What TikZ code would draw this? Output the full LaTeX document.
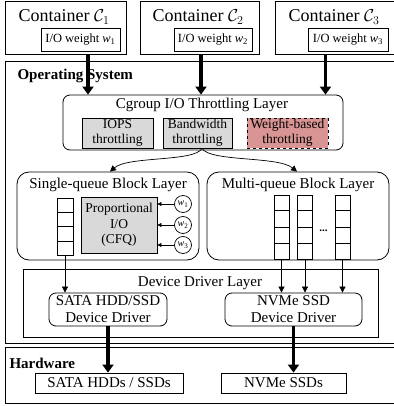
\documentclass[tikz,border=0pt]{standalone}
\usepackage{fontspec}
\setmainfont{Liberation Serif}
\usetikzlibrary{arrows.meta,calc}
\definecolor{boxgray}{HTML}{D9D9D9}
\definecolor{weightred}{HTML}{D99594}

\tikzset{
	box/.style = {draw, line width=0.8pt, inner sep=0pt, align=center},
	rbox/.style = {box, rounded corners=7pt},
	fatarrow/.style = {line width=3.5pt, -{Triangle[width=11pt,length=8pt]}},
	thinarrow/.style = {line width=0.7pt, -{Triangle[width=6pt,length=6pt]}},
	tinyarrow/.style = {line width=0.6pt, -{Triangle[width=4pt,length=4pt]}},
	big/.style = {font=\fontsize{15}{17}\selectfont},
	mid/.style = {font=\fontsize{13.5}{15.5}\selectfont},
}

\begin{document}
\begin{tikzpicture}[x=1pt, y=-1pt]
	\useasboundingbox (0,0) rectangle (393,406);
	% containers
	\node[box, minimum width=121, minimum height=53] (c1) at (65.5,27.5) {};
	\node[box, minimum width=119, minimum height=53] (c2) at (199.5,27.5) {};
	\node[box, minimum width=121, minimum height=53] (c3) at (335.5,27.5) {};
	\foreach \i/\x in {1/64, 2/198, 3/334}{
		\node[font=\fontsize{18}{20}\selectfont] (t\i) at (\x,17) {Container $\mathcal{C}_{\i}$};
		};
	\node[box, minimum width=79, minimum height=23, font=\fontsize{12.5}{14}\selectfont] (w1) at (80.5,39.5) {I/O weight {\itshape w}\textsubscript{1}};
	\node[box, minimum width=78, minimum height=23, font=\fontsize{12.5}{14}\selectfont] (w2) at (213,39.5) {I/O weight {\itshape w}\textsubscript{2}};
	\node[box, minimum width=80, minimum height=23, font=\fontsize{12.5}{14}\selectfont] (w3) at (348,39.5) {I/O weight {\itshape w}\textsubscript{3}};

	% operating system
	\draw[line width=0.8pt] (5,61) rectangle (402,343);
	\node[anchor=west, font=\bfseries\fontsize{15}{17}\selectfont] (os) at (14,76) {Operating System};

	\node[rbox, minimum width=280, minimum height=55] (cg) at (203,122.5) {};
	\node[big] (cgt) at (202,105) {Cgroup I/O Throttling Layer};
	\node[box, mid, fill=boxgray, minimum width=71, minimum height=30] (iops) at (117.5,133) {IOPS\\throttling};
	\node[box, mid, fill=boxgray, minimum width=69, minimum height=30] (bw) at (197.5,133) {Bandwidth\\throttling};
	\node[box, mid, fill=weightred, dashed, minimum width=81, minimum height=30] (wb) at (287.5,133) {Weight-based\\throttling};

	\draw[fatarrow] ([xshift=22.5pt]c1.south) -- ([xshift=22.5pt]c1.south |- cg.north);
	\draw[fatarrow] ([xshift=1.5pt]c2.south) -- ([xshift=1.5pt]c2.south |- cg.north);
	\draw[fatarrow] ([xshift=-10pt]c3.south) -- ([xshift=-10pt]c3.south |- cg.north);

	% block layers
	\node[rbox, minimum width=182, minimum height=88, rounded corners=12pt] (sq) at (108,216) {};
	\node[rbox, minimum width=182, minimum height=88, rounded corners=12pt] (mq) at (298,216) {};
	\node[big] (sqt) at (108,185) {Single-queue Block Layer};
	\node[big] (mqt) at (298,185) {Multi-queue Block Layer};

	\coordinate (bwout) at ([xshift=4.5pt]bw.south);
	\draw[thinarrow] (bwout) .. controls (195,162) and (128,156) .. ([xshift=2pt]sq.north);
	\draw[thinarrow] (bwout) .. controls (210,162) and (278,156) .. ([xshift=-1pt]mq.north);

	\node[box, minimum width=16, minimum height=57] (sqq) at (65,226.5) {};
	\foreach \k in {1,2,3}{
		\draw[line width=0.8pt] ($(sqq.north west)!\k/4!(sqq.south west)$) -- ($(sqq.north east)!\k/4!(sqq.south east)$);
		};
	\node[box, mid, fill=boxgray, minimum width=76, minimum height=56] (cfq) at (119,225) {Proportional\\I/O\\(CFQ)};
	\foreach \i/\y in {1/204, 2/225, 3/245}{
		\node[draw, circle, line width=0.7pt, minimum size=17, inner sep=0pt, font=\fontsize{10}{11}\selectfont] (wc\i) at (183,\y) {{\itshape w}\textsubscript{\i}};
		\draw[tinyarrow] (wc\i.west) -- (wc\i.west -| cfq.east);
		};

	\foreach \q/\x in {mq1/281.5, mq2/305, mq3/342.5}{
		\node[box, minimum width=15, minimum height=64] (\q) at (\x,227) {};
		\foreach \k in {1,2,3}{
			\draw[line width=0.8pt] ($(\q.north west)!\k/4!(\q.south west)$) -- ($(\q.north east)!\k/4!(\q.south east)$);
			};
		};
	\node[font=\bfseries\fontsize{11}{12}\selectfont] (dots) at (323.5,231) {...};

	% device drivers
	\node[box, minimum width=355, minimum height=68] (ddl) at (200.5,303) {};
	\node[big] (ddlt) at (200,283) {Device Driver Layer};
	\node[rbox, big, minimum width=118, minimum height=33] (sdrv) at (108,309.5) {SATA HDD/SSD\\Device Driver};
	\node[rbox, big, minimum width=137, minimum height=33] (ndrv) at (293.5,309.5) {NVMe SSD\\Device Driver};

	\draw[thinarrow] (sqq.south) -- (sqq.south |- sdrv.north);
	\foreach \q in {mq1,mq2,mq3}{
		\draw[thinarrow] (\q.south) -- (\q.south |- ndrv.north);
		};

	% hardware
	\draw[line width=0.8pt] (5,347) rectangle (402,403);
	\node[anchor=west, font=\bfseries\fontsize{15}{17}\selectfont] (hw) at (6,363) {Hardware};
	\node[box, big, minimum width=148, minimum height=20] (shw) at (109,383) {SATA HDDs / SSDs};
	\node[box, big, minimum width=125, minimum height=20] (nhw) at (283.5,383) {NVMe SSDs};

	\draw[fatarrow] (sdrv.south) -- (sdrv.south |- shw.north);
	\draw[fatarrow] (ndrv.south) -- (ndrv.south |- nhw.north);
\end{tikzpicture}
\end{document}
